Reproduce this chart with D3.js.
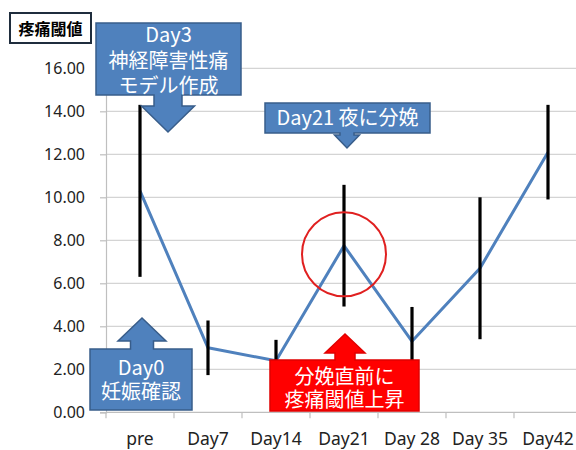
<!DOCTYPE html>
<html>
<head>
<meta charset="utf-8">
<script src="https://cdn.jsdelivr.net/npm/d3@7"></script>
<style>
  body { margin: 0; background: #fff; }
  svg { display: block; font-family: "Noto Sans CJK JP", "Noto Sans", sans-serif; }
</style>
</head>
<body>
<svg width="576" height="450"></svg>
<script>
// data
var categories = ["pre", "Day7", "Day14", "Day21", "Day 28", "Day 35", "Day42"];
var means = [10.3, 3.0, 2.4, 7.75, 3.3, 6.7, 12.1];
var errors = [4.0, 1.27, 0.97, 2.83, 1.6, 3.3, 2.2];
var yTicks = [0, 2, 4, 6, 8, 10, 12, 14, 16];
var yTitle = "疼痛閾値";

var svg = d3.select("svg"),
    margin = {top: 68.3, left: 106, right: -6, bottom: 37.7},
    width = 576 - margin.left - margin.right,
    height = 450 - margin.top - margin.bottom,
    g = svg.append("g").attr("transform", "translate(" + margin.left + "," + margin.top + ")");

var x = d3.scaleBand().domain(categories).range([0, width]).padding(0),
    y = d3.scaleLinear().domain([0, 16]).range([height, 0]);

var rows = categories.map(function(c, i) { return {cat: c, mean: means[i], err: errors[i]}; });

// gridlines
g.append("g").selectAll("line")
  .data(yTicks.slice(1))
  .enter().append("line")
    .attr("x1", 0).attr("x2", width)
    .attr("y1", function(d) { return y(d); })
    .attr("y2", function(d) { return y(d); })
    .attr("stroke", "#d4d4d4").attr("stroke-width", 1.2);

// y axis
var yAxis = g.append("g")
    .call(d3.axisLeft(y).tickValues(yTicks).tickFormat(d3.format(".2f")).tickSize(6).tickPadding(15));
yAxis.select(".domain").attr("stroke", "#bfbfbf").attr("stroke-width", 1.2);
yAxis.selectAll(".tick line").attr("stroke", "#bfbfbf").attr("stroke-width", 1.2);
yAxis.selectAll(".tick text").attr("fill", "#222").style("font-size", "16px")
    .style("font-family", "'Noto Sans', sans-serif");

// x axis, ticks between categories like Excel
var xAxis = g.append("g").attr("transform", "translate(0," + height + ")");
xAxis.append("line").attr("x1", 0).attr("x2", width)
  .attr("stroke", "#bfbfbf").attr("stroke-width", 1.2);
xAxis.selectAll(".sep")
  .data(categories)
  .enter().append("line")
    .attr("x1", function(d) { return x(d); })
    .attr("x2", function(d) { return x(d); })
    .attr("y1", 0).attr("y2", 6)
    .attr("stroke", "#bfbfbf").attr("stroke-width", 1.2);
xAxis.selectAll(".lab")
  .data(categories)
  .enter().append("text")
    .attr("x", function(d) { return x(d) + x.bandwidth() / 2; })
    .attr("y", 33)
    .attr("text-anchor", "middle")
    .attr("fill", "#222")
    .style("font-size", "17.5px")
    .style("font-family", "'Noto Sans', sans-serif")
    .text(function(d) { return d; });

// mean line
var line = d3.line()
    .x(function(d) { return x(d.cat) + x.bandwidth() / 2; })
    .y(function(d) { return y(d.mean); });

g.append("path")
  .datum(rows)
  .attr("d", line)
  .attr("fill", "none")
  .attr("stroke", "#4f81bd")
  .attr("stroke-width", 3)
  .attr("stroke-linejoin", "round");

// error bars
g.selectAll(".err")
  .data(rows)
  .enter().append("line")
    .attr("x1", function(d) { return x(d.cat) + x.bandwidth() / 2; })
    .attr("x2", function(d) { return x(d.cat) + x.bandwidth() / 2; })
    .attr("y1", function(d) { return y(d.mean + d.err); })
    .attr("y2", function(d) { return y(d.mean - d.err); })
    .attr("stroke", "#000")
    .attr("stroke-width", 3.2);

// red circle around Day21
g.append("circle")
  .attr("cx", x("Day21") + x.bandwidth() / 2)
  .attr("cy", y(7.35))
  .attr("r", 42)
  .attr("fill", "none")
  .attr("stroke", "#e02020")
  .attr("stroke-width", 2);

// title box
svg.append("rect")
  .attr("x", 10).attr("y", 13).attr("width", 81).attr("height", 30)
  .attr("fill", "#fff").attr("stroke", "#1f2d3d").attr("stroke-width", 2);
svg.append("text")
  .attr("x", 50.5).attr("y", 28)
  .attr("text-anchor", "middle").attr("dominant-baseline", "central")
  .style("font-size", "16px").style("font-weight", "bold")
  .text(yTitle);

// callouts
function downCallout(b) {
  return "M" + b.x0 + "," + b.y0 + "H" + b.x1 + "V" + b.y1 +
    "H" + (b.cx + b.sw) + "V" + b.hb + "H" + (b.cx + b.hw) +
    "L" + b.cx + "," + b.tip + "L" + (b.cx - b.hw) + "," + b.hb +
    "H" + (b.cx - b.sw) + "V" + b.y1 + "H" + b.x0 + "Z";
}
function upCallout(b) {
  return "M" + b.x0 + "," + b.y0 + "H" + (b.cx - b.sw) + "V" + b.hb +
    "H" + (b.cx - b.hw) + "L" + b.cx + "," + b.tip + "L" + (b.cx + b.hw) + "," + b.hb +
    "H" + (b.cx + b.sw) + "V" + b.y0 + "H" + b.x1 + "V" + b.y1 + "H" + b.x0 + "Z";
}

var callouts = [
  {dir: "down", x0: 96, y0: 23, x1: 241, y1: 95, cx: 168, sw: 14, hw: 26.5, hb: 106, tip: 132,
   fill: "#4f81bd", stroke: "#385d8a", lines: ["Day3", "神経障害性痛", "モデル作成"], ty: 35, lh: 25.5},
  {dir: "down", x0: 265, y0: 103, x1: 430, y1: 133, cx: 347, sw: 7, hw: 12.5, hb: 135, tip: 148,
   fill: "#4f81bd", stroke: "#385d8a", lines: ["Day21 夜に分娩"], ty: 118, lh: 0},
  {dir: "up", x0: 90, y0: 349, x1: 192, y1: 410, cx: 142, sw: 11.5, hw: 24, hb: 341, tip: 318,
   fill: "#4f81bd", stroke: "#385d8a", lines: ["Day0", "妊娠確認"], ty: 368, lh: 23.5},
  {dir: "up", x0: 270, y0: 360, x1: 419, y1: 411, cx: 345, sw: 10, hw: 20, hb: 353, tip: 334,
   fill: "#ff0000", stroke: "#e00000", lines: ["分娩直前に", "疼痛閾値上昇"], ty: 377, lh: 22.5}
];

var co = svg.selectAll(".callout")
  .data(callouts)
  .enter().append("g").attr("class", "callout");

co.append("path")
  .attr("d", function(d) { return d.dir === "down" ? downCallout(d) : upCallout(d); })
  .attr("fill", function(d) { return d.fill; })
  .attr("stroke", function(d) { return d.stroke; })
  .attr("stroke-width", 1.5);

// one text per callout, lines as tspans
co.append("text")
  .attr("text-anchor", "middle")
  .attr("fill", "#fff")
  .style("font-size", "20px")
  .each(function(d) {
    var t = d3.select(this);
    d.lines.forEach(function(s, i) {
      t.append("tspan")
        .attr("x", (d.x0 + d.x1) / 2)
        .attr("y", d.ty + i * d.lh + 7)
        .text(s);
    });
  });
</script>
</body>
</html>
